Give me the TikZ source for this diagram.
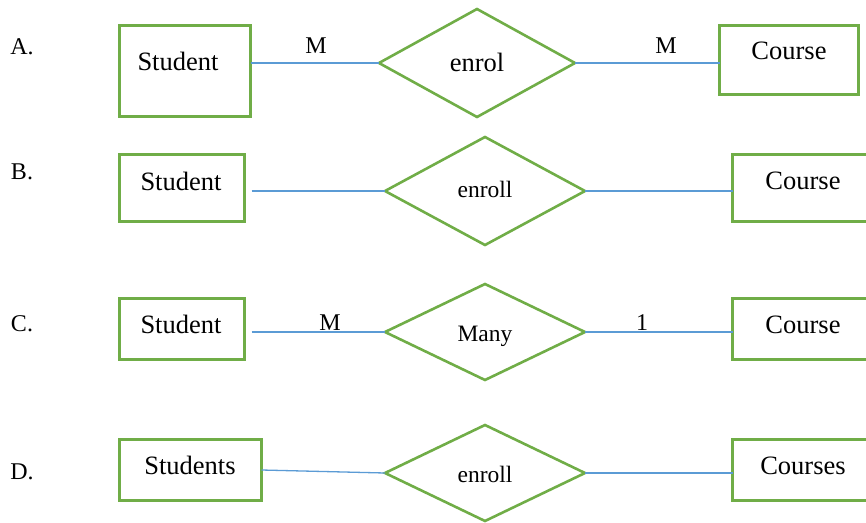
\documentclass[tikz,border=0pt]{standalone}
\usepackage{fontspec}
\setmainfont{Liberation Serif}
\usetikzlibrary{shapes.geometric}
\definecolor{egreen}{HTML}{70AD47}
\definecolor{lblue}{HTML}{5B9BD5}
\begin{document}
\begin{tikzpicture}[x=1pt,y=-1pt,
  ent/.style={draw=egreen, line width=2.6pt, inner sep=0pt, outer sep=0pt, rectangle},
  rel/.style={draw=egreen, line width=2.6pt, inner sep=0pt, outer sep=0pt, diamond},
  conn/.style={draw=lblue, line width=1.3pt},
  big/.style={font=\fontsize{26.5}{30}\selectfont, anchor=base, inner sep=0pt},
  small/.style={font=\fontsize{23.5}{27}\selectfont, anchor=base, inner sep=0pt},
  lab/.style={font=\fontsize{24}{28}\selectfont, anchor=base, inner sep=0pt}]
\useasboundingbox (0,0) rectangle (866,522);
% Row A
\node[lab] (lA) at (22,54) {A.};
\node[ent, minimum width=131pt, minimum height=91pt] (sA) at (185,71) {};
\node[rel, minimum width=196pt, minimum height=108pt] (dA) at (477,63) {};
\node[ent, minimum width=139pt, minimum height=69pt] (cA) at (789,60) {};
\node[big] (tsA) at (178,70) {Student};
\node[big] (tdA) at (477,71) {enrol};
\node[big] (tcA) at (789,59) {Course};
\node[lab] (m1A) at (316,53) {M};
\node[lab] (m2A) at (666,53) {M};
\draw[conn] (dA.west -| sA.east) -- (dA.west);
\draw[conn] (dA.east) -- (dA.east -| cA.west);
% Row B
\node[lab] (lB) at (22,179) {B.};
\node[ent, minimum width=125pt, minimum height=67pt] (sB) at (182,188) {};
\node[rel, minimum width=200pt, minimum height=108pt] (dB) at (485,191) {};
\node[ent, minimum width=135pt, minimum height=67pt] (cB) at (800,188) {};
\node[big] (tsB) at (181,190) {Student};
\node[small] (tdB) at (485,197) {enroll};
\node[big] (tcB) at (803,189) {Course};
\draw[conn, shorten <=7pt] (dB.west -| sB.east) -- (dB.west);
\draw[conn] (dB.east) -- (dB.east -| cB.west);
% Row C
\node[lab] (lC) at (22,331) {C.};
\node[ent, minimum width=125pt, minimum height=61pt] (sC) at (182,329) {};
\node[rel, minimum width=200pt, minimum height=96pt] (dC) at (485,332) {};
\node[ent, minimum width=135pt, minimum height=61pt] (cC) at (800,329) {};
\node[big] (tsC) at (181,333) {Student};
\node[small] (tdC) at (485,341) {Many};
\node[big] (tcC) at (803,333) {Course};
\node[lab] (mC) at (330,330) {M};
\node[lab] (oC) at (642,330) {1};
\draw[conn, shorten <=7pt] (dC.west -| sC.east) -- (dC.west);
\draw[conn] (dC.east) -- (dC.east -| cC.west);
% Row D
\node[lab] (lD) at (22,479) {D.};
\node[ent, minimum width=142pt, minimum height=61pt] (sD) at (190.5,470) {};
\node[rel, minimum width=200pt, minimum height=96pt] (dD) at (485,473) {};
\node[ent, minimum width=135pt, minimum height=61pt] (cD) at (800,470) {};
\node[big] (tsD) at (190,474) {Students};
\node[small] (tdD) at (485,482) {enroll};
\node[big] (tcD) at (803,474) {Courses};
\draw[conn] (sD.east) -- (dD.west);
\draw[conn] (dD.east) -- (dD.east -| cD.west);
\end{tikzpicture}
\end{document}
